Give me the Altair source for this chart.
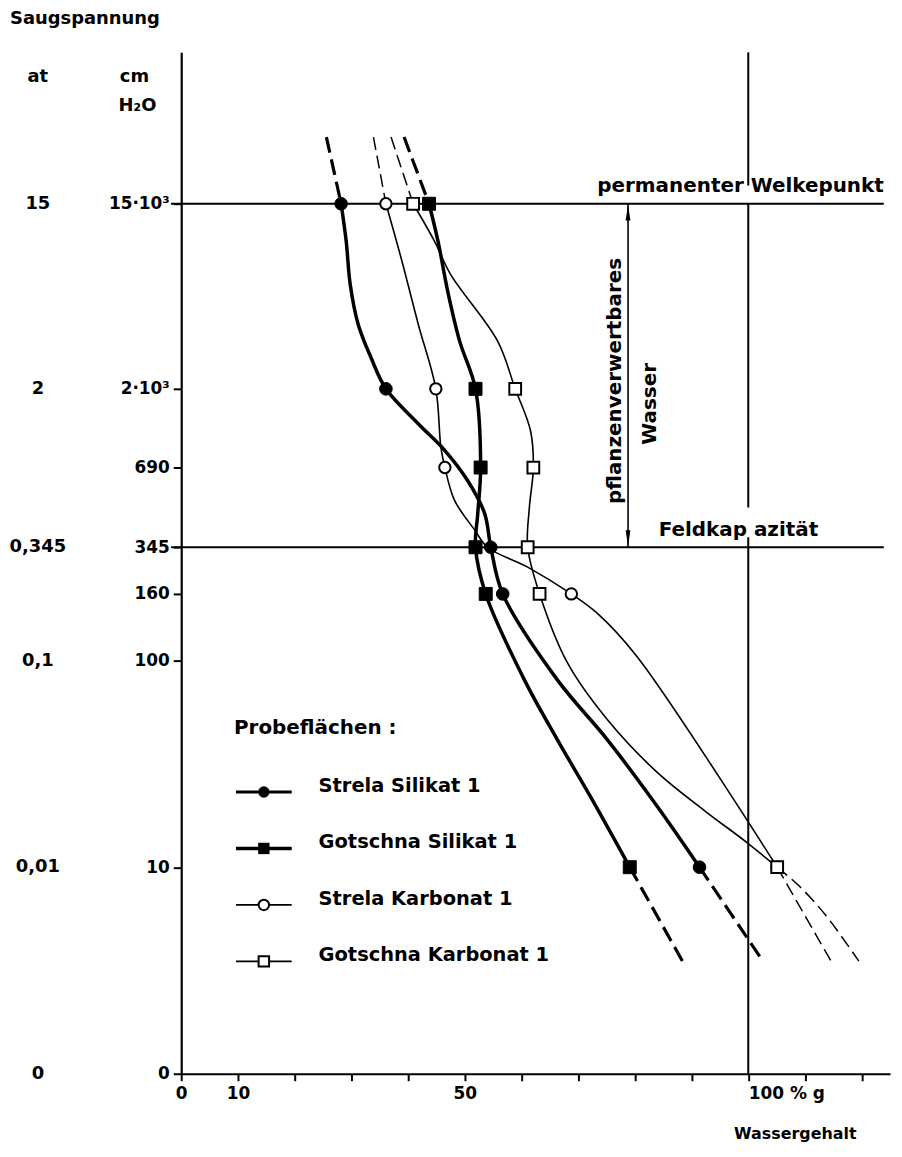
import altair as alt
import pandas as pd

# ---- axis ticks (suction levels, drawn positions on a pF-like scale) ----
tick_pos = [0.0, 1.0, 2.0, 2.323, 2.549, 2.935, 3.316, 4.212]
cm_labels = ["0", "10", "100", "160", "345", "690", "2·10³", "15·10³"]
at_pos = [4.212, 3.316, 2.549, 2.0, 1.0, 0.0]
at_labels = ["15", "2", "0,345", "0,1", "0,01", "0"]
x_ticks = [0, 10, 20, 30, 40, 50, 60, 70, 80, 90, 100, 110, 120]

series_names = ["Strela Silikat 1", "Gotschna Silikat 1", "Strela Karbonat 1", "Gotschna Karbonat 1"]

# ---- Strela Silikat 1 ----
ss_x = [28.2, 29.1, 29.8, 31.2, 33.5, 36.1, 41.8, 46.5, 50.5, 53.5, 54.6, 56.7, 66.3, 75.1, 83.9, 91.4]
ss_y = [4.212, 4.029, 3.822, 3.629, 3.465, 3.316, 3.147, 3.017, 2.872, 2.713, 2.549, 2.323, 1.908, 1.619, 1.296, 1.0]
ss_mx = [28.2, 36.1, 54.6, 56.7, 91.4]
ss_my = [4.212, 3.316, 2.549, 2.323, 1.0]
ss_top_x = [25.6, 28.2]
ss_top_y = [4.535, 4.212]
ss_bot_x = [91.4, 102.6]
ss_bot_y = [1.0, 0.545]

# ---- Gotschna Silikat 1 ----
gs_x = [43.7, 45.3, 47.0, 49.1, 51.9, 52.8, 52.3, 51.9, 53.7, 60.5, 66.3, 72.1, 79.1]
gs_y = [4.212, 4.029, 3.788, 3.547, 3.316, 2.935, 2.713, 2.549, 2.323, 1.908, 1.619, 1.345, 1.0]
gs_mx = [43.7, 51.9, 52.8, 51.9, 53.7, 79.1]
gs_my = [4.212, 3.316, 2.935, 2.549, 2.323, 1.0]
gs_top_x = [39.3, 43.7]
gs_top_y = [4.535, 4.212]
gs_bot_x = [79.1, 88.4]
gs_bot_y = [1.0, 0.545]

# ---- Strela Karbonat 1 ----
sk_x = [36.1, 38.8, 41.8, 44.9, 45.8, 46.5, 48.2, 51.8, 54.0, 61.1, 68.8, 73.3, 80.4, 105.1]
sk_y = [4.212, 3.947, 3.629, 3.316, 3.031, 2.935, 2.776, 2.631, 2.549, 2.453, 2.323, 2.231, 2.019, 1.0]
sk_mx = [36.1, 44.9, 46.5, 68.8, 105.1]
sk_my = [4.212, 3.316, 2.935, 2.323, 1.0]
sk_top_x = [33.9, 36.1]
sk_top_y = [4.535, 4.212]
sk_bot_x = [105.1, 114.6]
sk_bot_y = [1.0, 0.545]

# ---- Gotschna Karbonat 1 ----
gk_x = [40.9, 44.7, 47.5, 55.8, 58.9, 61.6, 62.1, 61.4, 61.1, 63.2, 68.1, 75.1, 83.9, 92.6, 99.6, 105.1]
gk_y = [4.212, 4.029, 3.870, 3.547, 3.316, 3.113, 2.935, 2.742, 2.549, 2.323, 1.990, 1.716, 1.460, 1.267, 1.123, 1.0]
gk_mx = [40.9, 58.9, 62.1, 61.1, 63.2, 105.1]
gk_my = [4.212, 3.316, 2.935, 2.549, 2.323, 1.0]
gk_top_x = [37.0, 40.9]
gk_top_y = [4.535, 4.212]
gk_bot_x = [105.1, 108.9, 113.7, 119.5]
gk_bot_y = [1.0, 0.911, 0.766, 0.545]

# ---- reference lines ----
hline_y = [4.212, 2.549]          # permanenter Welkepunkt, Feldkapazität
hline_x0, hline_x1 = -1.8, 123.9
vline_x = 100
vline_y0 = [0.0, 2.742, 4.30]
vline_y1 = [2.598, 4.212, 4.945]
arrow_x = 78.8

FONT = "DejaVu Sans"
XDOM = [0, 125]
YDOM = [0, 4.945]

xs = alt.Scale(domain=XDOM, nice=False, zero=False)
ys = alt.Scale(domain=YDOM, nice=False, zero=False)


def X(f):
    return alt.X(f, scale=xs)


def Y(f):
    return alt.Y(f, scale=ys)


def seg_df(key, xv, yv):
    return pd.DataFrame({"seg": key, "i": list(range(len(xv))), "x": xv, "y": yv})


thick_solid = pd.concat([seg_df("ss", ss_x, ss_y), seg_df("gs", gs_x, gs_y)])
thin_solid = pd.concat([seg_df("sk", sk_x, sk_y), seg_df("gk", gk_x, gk_y)])
thick_dash = pd.concat([seg_df("ss_t", ss_top_x, ss_top_y), seg_df("ss_b", ss_bot_x, ss_bot_y),
                        seg_df("gs_t", gs_top_x, gs_top_y), seg_df("gs_b", gs_bot_x, gs_bot_y)])
thin_dash = pd.concat([seg_df("sk_t", sk_top_x, sk_top_y), seg_df("sk_b", sk_bot_x, sk_bot_y),
                       seg_df("gk_t", gk_top_x, gk_top_y), seg_df("gk_b", gk_bot_x, gk_bot_y)])


def lines(df, width, dash=None):
    kw = dict(color="black", strokeWidth=width, interpolate="catmull-rom", strokeCap="butt")
    if dash:
        kw["strokeDash"] = dash
    return alt.Chart(df).mark_line(**kw).encode(
        x=X("x:Q"), y=Y("y:Q"), detail="seg:N", order=alt.Order("i:Q"))


def markers(xv, yv, shape, filled, size):
    df = pd.DataFrame({"x": xv, "y": yv})
    if filled:
        m = alt.Chart(df).mark_point(shape=shape, filled=True, fill="black", stroke="black",
                                     strokeWidth=1, size=size, opacity=1)
    else:
        m = alt.Chart(df).mark_point(shape=shape, filled=True, fill="white", stroke="black",
                                     strokeWidth=2, size=size, opacity=1)
    return m.encode(x=X("x:Q"), y=Y("y:Q"))


def y_label_expr():
    parts = []
    for p, lab in zip(tick_pos, cm_labels):
        parts.append(f"abs(datum.value - {p}) < 0.001 ? '{lab}' : ")
    return "".join(parts) + "''"


# Axes layer (invisible points carrying the axes)
axes_df = pd.DataFrame({"x": [0, 125], "y": [0, 4.945]})
axes = alt.Chart(axes_df).mark_point(opacity=0).encode(
    x=alt.X("x:Q", scale=xs, title=None, axis=alt.Axis(
        values=x_ticks, title=None, grid=False, tickSize=7, labelPadding=5,
        labelExpr="datum.value == 0 || datum.value == 10 || datum.value == 50 ? datum.label : (datum.value == 100 ? '100 % g' : '')",
        labelAlign=alt.ExprRef(expr="datum.value == 100 ? 'left' : 'center'"),
    )),
    y=alt.Y("y:Q", scale=ys, title=None, axis=alt.Axis(
        values=tick_pos, title=None, grid=False, tickSize=8, labelPadding=4,
        labelExpr=y_label_expr(),
    )),
)

# reference lines
hl = alt.Chart(pd.DataFrame({"y": hline_y, "x0": [hline_x0] * len(hline_y), "x1": [hline_x1] * len(hline_y)})).mark_rule(
    color="black", strokeWidth=2).encode(x=X("x0:Q"), x2="x1:Q", y=Y("y:Q"))
vl = alt.Chart(pd.DataFrame({"x": [vline_x] * len(vline_y0), "y0": vline_y0, "y1": vline_y1})).mark_rule(
    color="black", strokeWidth=2).encode(x=X("x:Q"), y=Y("y0:Q"), y2="y1:Q")

# double arrow
arr = alt.Chart(pd.DataFrame({"x": [arrow_x], "y0": [hline_y[1]], "y1": [hline_y[0]]})).mark_rule(
    color="black", strokeWidth=1.6).encode(x=X("x:Q"), y=Y("y0:Q"), y2="y1:Q")
arr_up = alt.Chart(pd.DataFrame({"x": [arrow_x], "y": [4.169]})).mark_point(
    shape="M0,-1L0.3,1L-0.3,1Z", filled=True, fill="black", size=256, opacity=1).encode(x=X("x:Q"), y=Y("y:Q"))
arr_dn = alt.Chart(pd.DataFrame({"x": [arrow_x], "y": [2.593]})).mark_point(
    shape="M0,1L0.3,-1L-0.3,-1Z", filled=True, fill="black", size=256, opacity=1).encode(x=X("x:Q"), y=Y("y:Q"))


def data_text(txt, x, y, size=18, align="left", baseline="alphabetic", angle=0):
    return alt.Chart(pd.DataFrame({"t": [txt], "x": [x], "y": [y]})).mark_text(
        font=FONT, fontWeight="bold", fontSize=size, align=align, baseline=baseline,
        angle=angle, color="black").encode(x=X("x:Q"), y=Y("y:Q"), text="t:N")


def px_text(txt, x, y, size=16, align="left", baseline="middle"):
    return alt.Chart(pd.DataFrame({"t": [txt]})).mark_text(
        font=FONT, fontWeight="bold", fontSize=size, align=align, baseline=baseline,
        color="black").encode(x=alt.value(x), y=alt.value(y), text="t:N")


t_welke = data_text("permanenter Welkepunkt", 123.9, 4.268, size=20, align="right")
t_feld = data_text("Feldkap azität", 84.2, 2.602, size=20, align="left")
t_pflanz = data_text("pflanzenverwertbares", 76.5, 3.354, size=20, align="center", baseline="middle", angle=270)
t_wasser = data_text("Wasser", 82.6, 3.243, size=20, align="center", baseline="middle", angle=270)

# left column (at)
at_layer = alt.Chart(pd.DataFrame({"t": at_labels, "y": at_pos})).mark_text(
    font=FONT, fontWeight="bold", fontSize=18, align="center", baseline="middle", color="black").encode(
    x=alt.value(-144), y=Y("y:Q"), text="t:N")

headers = [
    px_text("Saugspannung", -172, -33, size=18),
    px_text("at", -144, 25, size=18, align="center"),
    px_text("cm", -47, 25, size=18, align="center"),
    px_text("H₂O", -44, 54, size=18, align="center"),
    alt.Chart(pd.DataFrame({"t": ["Wassergehalt"], "x": [97.5]})).mark_text(
        font=FONT, fontWeight="bold", fontSize=16, align="left", baseline="middle", color="black").encode(
        x=X("x:Q"), y=alt.value(1087), text="t:N"),
]

# legend
legend_layers = [px_text("Probeflächen :", 53, 679, size=20, align="left", baseline="middle")]
leg_styles = [("circle", True, 3.0), ("square", True, 3.5), ("circle", False, 1.6), ("square", False, 1.6)]
for i, (name, (shape, filled, w)) in enumerate(zip(series_names, leg_styles)):
    yy = 743 + i * 56.7
    legend_layers.append(alt.Chart(pd.DataFrame({"t": [name]})).mark_rule(color="black", strokeWidth=w).encode(
        x=alt.value(55), x2=alt.value(111), y=alt.value(yy)))
    if filled:
        legend_layers.append(alt.Chart(pd.DataFrame({"t": [name]})).mark_point(
            shape=shape, filled=True, fill="black", size=130, opacity=1).encode(x=alt.value(83), y=alt.value(yy)))
    else:
        legend_layers.append(alt.Chart(pd.DataFrame({"t": [name]})).mark_point(
            shape=shape, filled=True, fill="white", stroke="black", strokeWidth=2, size=110, opacity=1).encode(
            x=alt.value(83), y=alt.value(yy)))
    legend_layers.append(alt.Chart(pd.DataFrame({"t": [name]})).mark_text(
        font=FONT, fontWeight="bold", fontSize=19.5, align="left", baseline="alphabetic", color="black").encode(
        x=alt.value(138), y=alt.value(yy), text="t:N"))

chart = alt.layer(
    axes, hl, vl, arr, arr_up, arr_dn,
    lines(thick_dash, 3.2, [16, 7]),
    lines(thin_dash, 1.5, [13, 6]),
    lines(thin_solid, 1.6),
    lines(thick_solid, 3.5),
    markers(sk_mx, sk_my, "circle", False, 130),
    markers(gk_mx, gk_my, "square", False, 140),
    markers(ss_mx, ss_my, "circle", True, 160),
    markers(gs_mx, gs_my, "square", True, 170),
    t_welke, t_feld, t_pflanz, t_wasser, at_layer,
    *headers, *legend_layers,
).properties(
    width=712, height=1026,
    padding={"left": 174, "top": 42, "right": 4, "bottom": 66},
    autosize=alt.AutoSizeParams(type="none"),
).configure_view(stroke=None).configure_axis(
    domainColor="black", domainWidth=2.2, tickColor="black", tickWidth=2,
    labelFont=FONT, labelFontWeight="bold", labelFontSize=17, labelColor="black",
)

chart.save("out.html", embed_options={"renderer": "svg", "actions": False})
